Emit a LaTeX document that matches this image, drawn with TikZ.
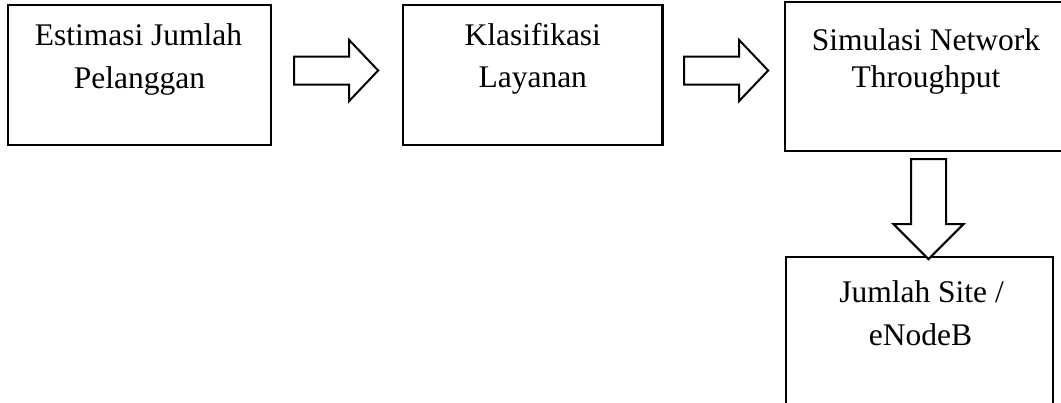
\documentclass[tikz,border=0pt]{standalone}
\usepackage{fontspec}
\setmainfont[Ligatures=CommonOff]{Liberation Serif}
\usetikzlibrary{calc}
\begin{document}
\begin{tikzpicture}[x=1pt,y=1pt,
  box/.style={draw=black,line width=2.3pt,fill=white,inner sep=0pt},
  label/.style={anchor=base,inner sep=0pt,font=\fontsize{31.5}{36}\selectfont},
  blk/.style={draw=black,line width=2pt,line join=miter,fill=white},
  harrow/.pic={\draw[blk] (0,14) -- (55,14) -- (55,30.5) -- (84,0)
      -- (55,-30.5) -- (55,-14) -- (0,-14) -- cycle;},
  varrow/.pic={\draw[blk] (-17.5,0) -- (17.5,0) -- (17.5,-65) -- (35,-65)
      -- (0,-100) -- (-35,-65) -- (-17.5,-65) -- cycle;}]
\useasboundingbox (0,0) rectangle (1061,-402);
\clip (0,0) rectangle (1061,-402);

% process boxes
\node[box,minimum width=263,minimum height=140] (b1) at (139.5,-75) {};
\node[box,minimum width=259.5,minimum height=140] (b2) at (532.75,-75) {};
\node[box,minimum width=282,minimum height=149] (b3) at (926,-76.5) {};
\node[box,minimum width=267,minimum height=173] (b4) at (919.5,-343.5) {};

% box texts, one node per line
\node[label] (t1a) at ($(b1.north)+(-1,-42)$) {Estimasi Jumlah};
\node[label] (t1b) at ($(b1.north)+(0,-85)$) {Pelanggan};
\node[label] (t2a) at ($(b2.north)+(0,-42)$) {Klasifikasi};
\node[label] (t2b) at ($(b2.north)+(0,-84)$) {Layanan};
\node[label] (t3a) at ($(b3.north)+(0,-50)$) {Simulasi Network};
\node[label] (t3b) at ($(b3.north)+(0,-87)$) {Throughput};
\node[label] (t4a) at ($(b4.north)+(2,-47)$) {Jumlah Site /};
\node[label] (t4b) at ($(b4.north)+(1,-90)$) {eNodeB};

% block arrows between the boxes
\pic at ($(b1.east)+(22,4.5)$) {harrow};
\pic at ($(b2.east)+(20.5,4.5)$) {harrow};
\pic at ($(b3.south)+(2.5,-7)$) {varrow};
\end{tikzpicture}
\end{document}
